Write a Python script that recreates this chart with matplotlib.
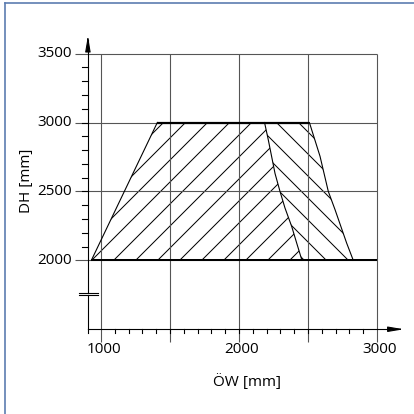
import matplotlib
matplotlib.use("Agg")
import matplotlib.pyplot as plt
from matplotlib.lines import Line2D

plt.rcParams['font.family'] = ['Open Sans', 'DejaVu Sans']
plt.rcParams['hatch.linewidth'] = 0.55

# ---- data ----
x_ticks = [1000, 2000, 3000]
x_tick_labels = ["1000", "2000", "3000"]
y_ticks = [2000, 2500, 3000, 3500]
y_tick_labels = ["2000", "2500", "3000", "3500"]
x_grid = [1000, 1500, 2000, 2500, 3000]
y_grid = [2000, 2500, 3000, 3500]
x_minor = list(range(1100, 3000, 100))
y_minor = list(range(2100, 3500, 100))

# left boundary (straight)
left_x = [930, 1408]
left_y = [2000, 3000]
# middle dividing curve (top -> bottom)
mid_x = [2185, 2212, 2261, 2297, 2333, 2382, 2418, 2456]
mid_y = [3000, 2875, 2630, 2500, 2380, 2245, 2125, 2000]
# right boundary (top -> bottom)
right_x = [2510, 2587, 2647, 2696, 2780, 2828]
right_y = [3000, 2755, 2500, 2367, 2125, 2000]

x_label = "ÖW [mm]"
y_label = "DH [mm]"

DPI = 132
fig = plt.figure(figsize=(414 / DPI, 414 / DPI), dpi=DPI)
ax = fig.add_axes([0, 0, 1, 1])
ax.set_xlim(268, 3268)
ax.set_ylim(885, 3889)
ax.axis('off')

GRID = '#555555'
lw1 = 0.6
# grid lines
for yv in y_grid:
    ax.plot([812, 3000], [yv, yv], color=GRID, lw=lw1, solid_capstyle='butt')
for xv in x_grid:
    ax.plot([xv, xv], [1407, 3500], color=GRID, lw=lw1, solid_capstyle='butt')

# hatched regions
poly_l_x = left_x + mid_x
poly_l_y = left_y + mid_y
ax.fill(poly_l_x, poly_l_y, facecolor='none', edgecolor='black', hatch='//', linewidth=0)
poly_r_x = mid_x + right_x[::-1]
poly_r_y = mid_y + right_y[::-1]
ax.fill(poly_r_x, poly_r_y, facecolor='none', edgecolor='black', hatch='\\\\', linewidth=0)

# outlines
ax.plot(left_x, left_y, color='black', lw=lw1)
ax.plot(mid_x, mid_y, color='black', lw=lw1)
ax.plot(right_x, right_y, color='black', lw=lw1)
ax.plot([left_x[1], right_x[0]], [3000, 3000], color='black', lw=1.2, solid_capstyle='butt')
ax.plot([left_x[0], 3000], [2000, 2000], color='black', lw=1.1, solid_capstyle='butt')

# axes
AX0 = 905
AY0 = 1500
ax.plot([AX0, AX0], [AY0, 1745], color='black', lw=lw1)
ax.plot([AX0, AX0], [1766, 3600], color='black', lw=lw1)
ax.annotate('', xy=(AX0, 3655), xytext=(AX0, 3560),
            arrowprops=dict(arrowstyle='-|>,head_length=0.7,head_width=0.12', color='black', lw=lw1))
ax.plot([AX0, 3150], [AY0, AY0], color='black', lw=lw1)
ax.annotate('', xy=(3220, AY0), xytext=(3120, AY0),
            arrowprops=dict(arrowstyle='-|>,head_length=0.7,head_width=0.12', color='black', lw=lw1))
# break marks
for yb in [1745, 1766]:
    ax.plot([842, 975], [yb, yb], color='black', lw=lw1)

# minor ticks
for xv in [AX0] + x_minor:
    ax.plot([xv, xv], [AY0, AY0 - 25], color='black', lw=lw1)
for yv in y_minor:
    ax.plot([AX0 - 40, AX0], [yv, yv], color='black', lw=lw1)

# tick labels
for xv, lab in zip(x_ticks, x_tick_labels):
    ax.text(xv + 22, 1352, lab, ha='center', va='center', fontsize=8.3)
for yv, lab in zip(y_ticks, y_tick_labels):
    ax.text(792, yv, lab, ha='right', va='center', fontsize=8.3)

ax.text(2058, 1116, x_label, ha='center', va='center', fontsize=8.3)
ax.text(460, 2576, y_label, ha='center', va='center', rotation=90, fontsize=8.3)

# frame border (left & top)
BC = '#5b7bb0'
fig.add_artist(Line2D([5 / 414, 5 / 414], [0, 1 - 3 / 414], color=BC, lw=0.9, transform=fig.transFigure))
fig.add_artist(Line2D([5 / 414, 1], [1 - 3 / 414, 1 - 3 / 414], color=BC, lw=0.9, transform=fig.transFigure))

fig.savefig('out.png', dpi=DPI)
